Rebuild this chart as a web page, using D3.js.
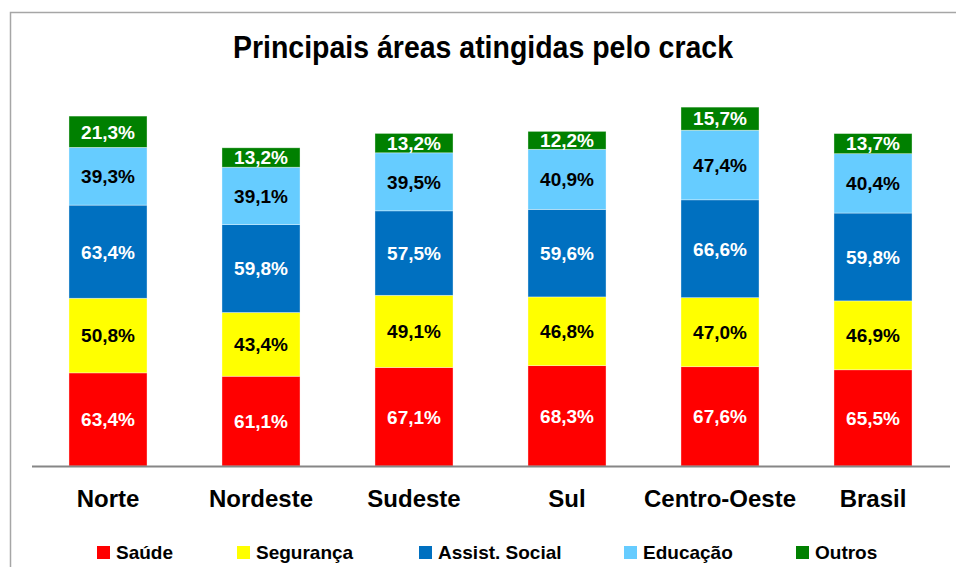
<!DOCTYPE html>
<html>
<head>
<meta charset="utf-8">
<script src="https://cdn.jsdelivr.net/npm/d3@7"></script>
<style>
  body { margin: 0; background: #fff; }
  svg text { font-family: "Liberation Sans Narrow", "Arial Narrow", "Liberation Sans", sans-serif; font-weight: bold; }
</style>
</head>
<body>
<div id="chart"></div>
<script>
// regions and the five areas
var regions = ["Norte", "Nordeste", "Sudeste", "Sul", "Centro-Oeste", "Brasil"];
var areas = ["Saúde", "Segurança", "Assist. Social", "Educação", "Outros"];
var areaColors = ["#FF0000", "#FFFF00", "#0070C0", "#66CCFF", "#008000"];
var labelColors = ["#fff", "#000", "#fff", "#000", "#fff"];

// values per area, one per region
var saude      = [63.4, 61.1, 67.1, 68.3, 67.6, 65.5];
var seguranca  = [50.8, 43.4, 49.1, 46.8, 47.0, 46.9];
var assist     = [63.4, 59.8, 57.5, 59.6, 66.6, 59.8];
var educacao   = [39.3, 39.1, 39.5, 40.9, 47.4, 40.4];
var outros     = [21.3, 13.2, 13.2, 12.2, 15.7, 13.7];

var series = [saude, seguranca, assist, educacao, outros];

var svgWidth = 956, svgHeight = 567;

var svg = d3.select("#chart")
  .append("svg")
  .attr("width", svgWidth)
  .attr("height", svgHeight);

// chart frame
svg.append("rect")
  .attr("x", 10.5).attr("y", 12.5)
  .attr("width", 960).attr("height", 600)
  .attr("fill", "none")
  .attr("stroke", "#a6a6a6")
  .attr("stroke-width", 1.5);

// title (squeezed, the original font is a narrow one)
svg.append("text")
  .attr("x", 483)
  .attr("y", 58)
  .attr("text-anchor", "middle")
  .attr("textLength", 500)
  .attr("lengthAdjust", "spacingAndGlyphs")
  .style("font-size", "32px")
  .text("Principais áreas atingidas pelo crack");

// stacked table
var table = regions.map(function(r, i) {
  var row = { region: r };
  areas.forEach(function(a, j) { row[a] = series[j][i]; });
  return row;
});
var stacked = d3.stack().keys(areas)(table);

var xScale = d3.scaleBand()
  .domain(regions)
  .range([31.5, 949.5])
  .paddingInner(0.49)
  .paddingOuter(0.245);

var yScale = d3.scaleLinear()
  .domain([0, 300])
  .range([466, 25.3]);

var layers = svg.selectAll(".layer")
  .data(stacked)
  .enter().append("g")
  .attr("class", "layer");

layers.selectAll("rect")
  .data(function(d) { return d; })
  .enter().append("rect")
  .attr("x", function(d) { return xScale(d.data.region); })
  .attr("y", function(d) { return yScale(d[1]); })
  .attr("width", xScale.bandwidth())
  .attr("height", function(d) { return yScale(d[0]) - yScale(d[1]); })
  .attr("fill", function(d, i, nodes) { return areaColors[d3.select(nodes[i].parentNode).datum().index]; })
  .attr("stroke", "rgba(255,255,255,0.5)")
  .attr("stroke-width", 0.7);

// value labels
layers.selectAll("text")
  .data(function(d) { return d.map(function(p) { return { p: p, idx: d.index }; }); })
  .enter().append("text")
  .attr("x", function(d) { return xScale(d.p.data.region) + xScale.bandwidth() / 2; })
  .attr("y", function(d) { return (yScale(d.p[0]) + yScale(d.p[1])) / 2; })
  .attr("dy", "0.36em")
  .attr("text-anchor", "middle")
  .attr("fill", function(d) { return labelColors[d.idx]; })
  .style("font-size", "19px")
  .text(function(d) { return d3.format(".1f")(d.p[1] - d.p[0]).replace(".", ",") + "%"; });

// category axis
var xAxis = svg.append("g")
  .attr("transform", "translate(0,466)")
  .call(d3.axisBottom(xScale).tickSize(0).tickPadding(0));

xAxis.select(".domain")
  .attr("stroke", "#868686")
  .attr("stroke-width", 2);

xAxis.selectAll("text")
  .attr("y", 41)
  .attr("dy", 0)
  .attr("fill", "#000")
  .style("font-size", "24px")
  .style("font-family", "\"Liberation Sans Narrow\", \"Arial Narrow\", \"Liberation Sans\", sans-serif")
  .style("font-weight", "bold");

// legend
var legendX = [97, 237, 419, 624, 796];
var legend = svg.selectAll(".legend")
  .data(areas)
  .enter().append("g")
  .attr("class", "legend")
  .attr("transform", function(d, i) { return "translate(" + legendX[i] + ",546)"; });

legend.append("rect")
  .attr("width", 13)
  .attr("height", 13)
  .attr("fill", function(d, i) { return areaColors[i]; });

legend.append("text")
  .attr("x", 19)
  .attr("y", 13)
  .style("font-size", "19px")
  .text(function(d) { return d; });
</script>
</body>
</html>
